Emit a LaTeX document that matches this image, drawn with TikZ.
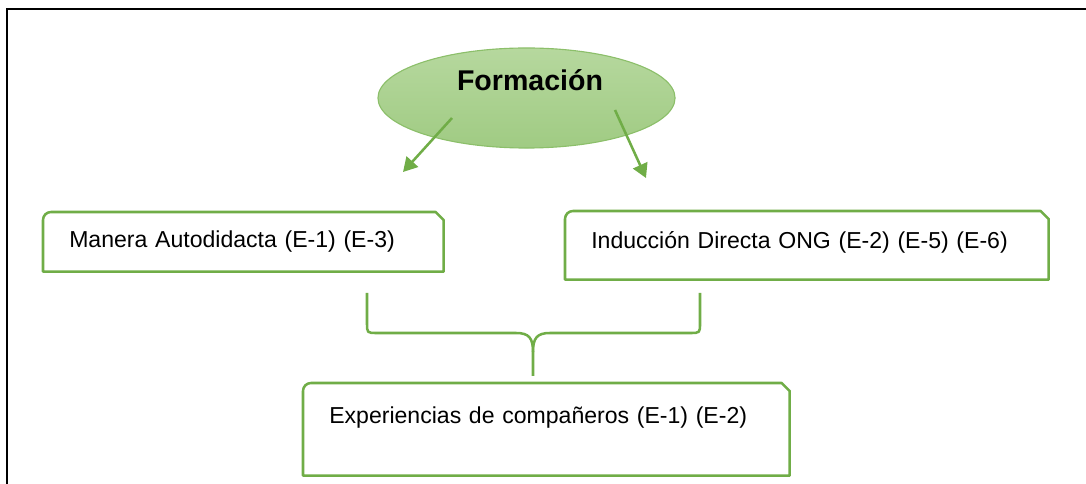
\documentclass[tikz,border=0pt]{standalone}
\usepackage{fontspec}
\setmainfont{Liberation Sans}
\usepackage{tikz}
\usetikzlibrary{shapes.geometric, arrows.meta, positioning, calc}
\definecolor{leafgreen}{HTML}{70AD47}
\definecolor{elltop}{HTML}{B6D89E}
\definecolor{ellbot}{HTML}{A0CB83}
\definecolor{elledge}{HTML}{8CBF6A}
\tikzset{
  frameline/.style={draw=black, line width=2.1pt}, % the outer frame, cut off right and below
  headell/.style={ellipse, draw=elledge, line width=0.8pt, top color=elltop, bottom color=ellbot,
	minimum width=7.425cm, minimum height=2.5cm, inner sep=0pt}, % the green oval on top
  headtxt/.style={font=\bfseries\fontsize{20.3}{24}\selectfont}, % its title
  snipbox/.style={anchor=north west, align=left, inner xsep=0.65cm, inner ysep=0pt,
	font=\fontsize{16.4}{19}\selectfont}, % boxes, outline drawn afterwards
  boxline/.style={draw=leafgreen, line width=1.8pt, line join=round},
  pointer/.style={draw=leafgreen, line width=1.8pt, -{Triangle[length=10pt, width=11pt]}}, % arrows out of the oval
  brace/.style={draw=leafgreen, line width=1.8pt, line join=round},
}
\begin{document}
\begin{tikzpicture}[x=0.025cm, y=-0.025cm]
\useasboundingbox (0,0) rectangle (1086,484);
\draw[frameline] (7,484) |- (1086,9);

% top
\node[headell] (form) at (526.5,98) {};
\node[headtxt] (formtxt) at (530,80) {Formación};

% the boxes
\node[snipbox, text width=8.7cm, minimum height=1.475cm] (auto) at (43,212) {Manera Autodidacta (E-1) (E-3)};
\node[snipbox, text width=10.775cm, minimum height=1.7cm, text depth=7pt] (ong) at (565,211) {Inducción Directa ONG (E-2) (E-5) (E-6)};
\node[snipbox, text width=10.85cm, minimum height=2.3cm, text depth=20pt] (exp) at (303,383) {Experiencias de compañeros (E-1) (E-2)};

\foreach \n in {auto, ong, exp}
  \draw[boxline] (\n.south west) -- ([yshift=-0.2cm]\n.north west)
	arc[start angle=180, end angle=90, radius=0.2cm]
	-- ([xshift=-0.2cm]\n.north east) -- ([yshift=-0.2cm]\n.north east)
	-- (\n.south east) -- cycle;

% arrows
\coordinate (formL) at (452,118);
\coordinate (formR) at (615,110);
\coordinate (tipL) at (403,172);
\coordinate (tipR) at (646,178);
\draw[pointer] (formL) -- (tipL);
\draw[pointer] (formR) -- (tipR);

% the brace under the two boxes
\coordinate (braceL) at (367,293);
\coordinate (braceR) at (700,293);
\coordinate (braceTip) at (533,376);
\draw[brace] (braceL) -- (367,323) .. controls (367,333) .. (377,333) -- (516,333)
  .. controls (529,333) and (533,338) .. (533,352) -- (braceTip);
\draw[brace] (braceR) -- (700,323) .. controls (700,333) .. (690,333) -- (550,333)
  .. controls (537,333) and (533,338) .. (533,352);
\end{tikzpicture}
\end{document}
